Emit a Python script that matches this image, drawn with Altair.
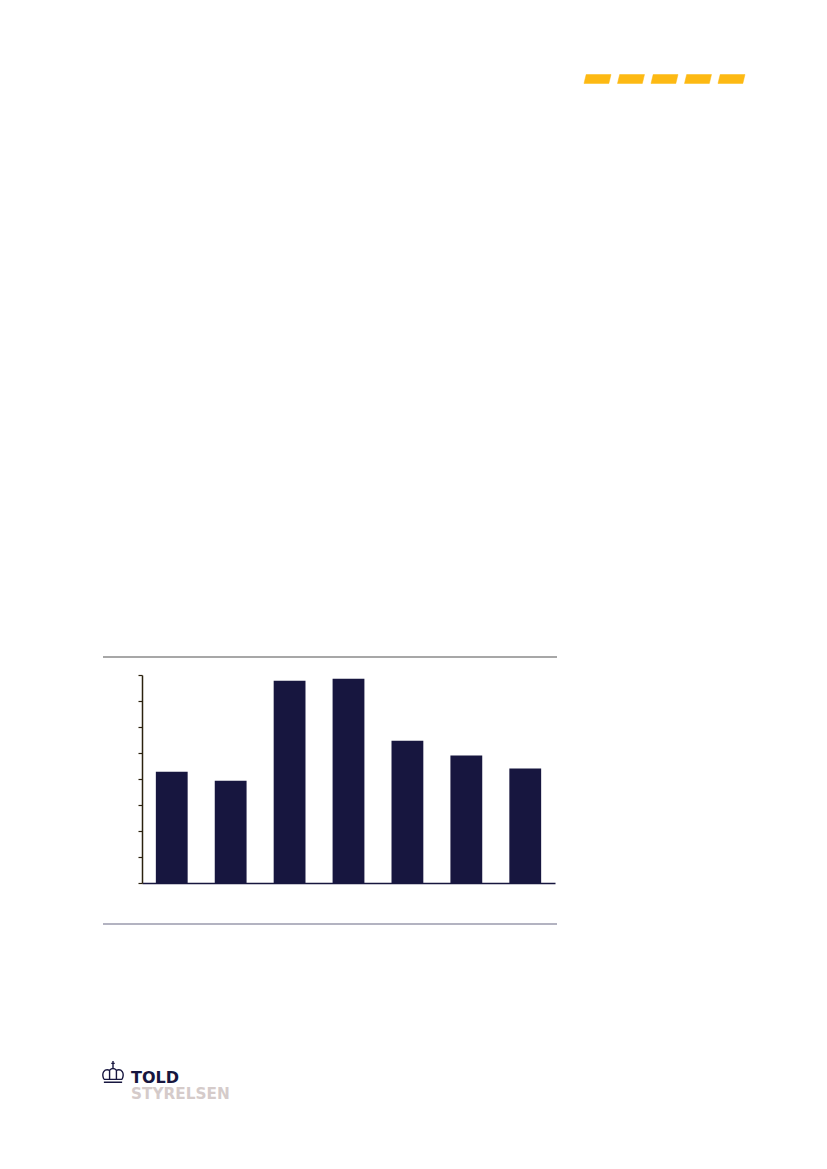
import altair as alt
import pandas as pd

# ---- data (in units of one y-axis tick step) ----
categories = ["1", "2", "3", "4", "5", "6", "7"]
values = [4.28, 3.93, 7.78, 7.86, 5.47, 4.90, 4.40]
y_ticks = [0, 1, 2, 3, 4, 5, 6, 7, 8]

NAVY = "#17163f"
AXIS_BROWN = "#2b220f"
GOLD = "#fdb913"
LOGO_GREY = "#d5cbca"

df = pd.DataFrame({"cat": categories, "val": values})
one = pd.DataFrame({"d": [0]})

bars = alt.Chart(df).mark_bar(color=NAVY).encode(
    x=alt.X("cat:N", sort=categories, title=None,
            scale=alt.Scale(paddingInner=0.46, paddingOuter=0.235),
            axis=alt.Axis(labels=False, ticks=False, domainColor=NAVY,
                          domainWidth=1.5, grid=False)),
    y=alt.Y("val:Q", title=None,
            scale=alt.Scale(domain=[0, 8], nice=False),
            axis=alt.Axis(values=y_ticks, labels=False, ticks=True, tickSize=4,
                          tickColor=AXIS_BROWN, tickWidth=1.2,
                          domainColor=AXIS_BROWN, domainWidth=1.5, grid=False)),
)

# ---- page decorations (layout, pixel offsets from the plot origin) ----
layers = [bars]

top_line = alt.Chart(one).mark_rule(color="#8a8a8a", strokeWidth=1.6).encode(
    x=alt.value(-39), x2=alt.value(415), y=alt.value(-18))
bottom_line = alt.Chart(one).mark_rule(color="#9a9aac", strokeWidth=1.6).encode(
    x=alt.value(-39), x2=alt.value(415), y=alt.value(249))
layers += [top_line, bottom_line]

dash_path = "M -1 0.33 L -0.84 -0.33 L 1 -0.33 L 0.84 0.33 Z"
for cx in [455.5, 489, 522.5, 556, 589.5]:
    layers.append(
        alt.Chart(one).mark_point(shape=dash_path, filled=True, fill=GOLD,
                                  stroke=GOLD, strokeWidth=0.5, opacity=1,
                                  size=729).encode(
            x=alt.value(cx), y=alt.value(-596)))

crown_path = ("M -0.8 0.85 L 0.8 0.85 "
              "M -0.8 0.6 L 0.8 0.6 "
              "M -0.8 0.6 C -1.05 0.0 -0.75 -0.35 -0.3 -0.2 "
              "M 0.8 0.6 C 1.05 0.0 0.75 -0.35 0.3 -0.2 "
              "M -0.3 0.6 L -0.3 -0.2 Q 0 -0.5 0.3 -0.2 L 0.3 0.6 "
              "M 0 -0.35 L 0 -1 M -0.15 -0.8 L 0.15 -0.8")
layers.append(
    alt.Chart(one).mark_point(shape=crown_path, filled=False, stroke=NAVY,
                              strokeWidth=1.4, opacity=1, size=520).encode(
        x=alt.value(-29), y=alt.value(397.5)))

layers.append(
    alt.Chart(one).mark_text(text="TOLD", font="DejaVu Sans", fontWeight="bold",
                             fontSize=16, color=NAVY, align="left",
                             baseline="alphabetic").encode(
        x=alt.value(-11), y=alt.value(408.2)))
layers.append(
    alt.Chart(one).mark_text(text="STYRELSEN", font="DejaVu Sans", fontWeight="bold",
                             fontSize=15.3, color=LOGO_GREY, align="left",
                             baseline="alphabetic").encode(
        x=alt.value(-11), y=alt.value(424)))

chart = alt.layer(*layers).properties(
    width=413,
    height=208,
    padding={"left": 134, "top": 667, "right": 262, "bottom": 270},
    autosize=alt.AutoSizeParams(type="none"),
    background="white",
).configure_view(stroke=None)

chart.save("out.html", embed_options={"renderer": "svg", "actions": False})
